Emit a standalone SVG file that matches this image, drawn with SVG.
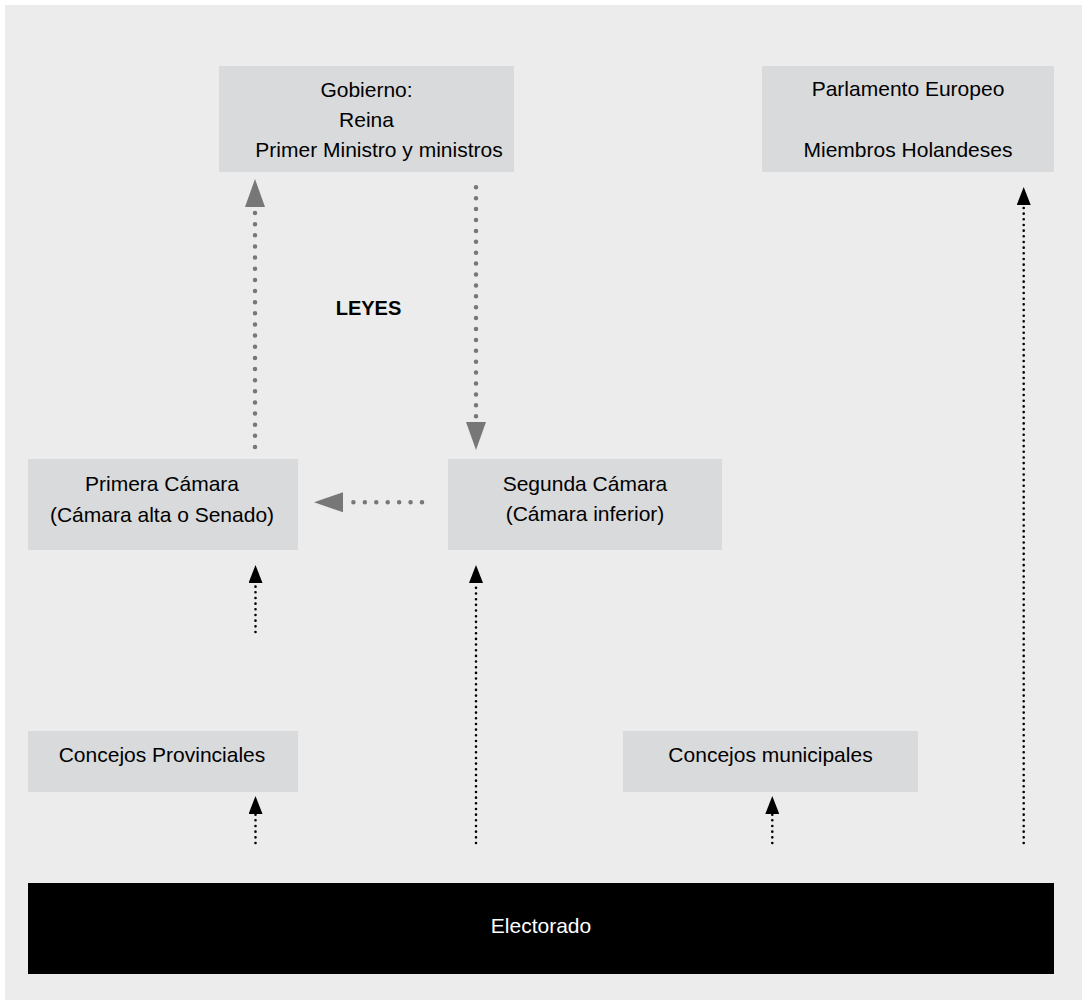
<svg xmlns="http://www.w3.org/2000/svg" width="1082" height="1001" viewBox="0 0 1082 1001">
  <defs>
    <marker id="ah-black" markerUnits="userSpaceOnUse" viewBox="0 0 18 14" refX="0" refY="7" markerWidth="18" markerHeight="14" orient="auto">
      <path d="M0,0 L18,7 L0,14 Z" fill="#000"/>
    </marker>
  </defs>
  <style>
    .box { fill: #d9dadb; }
    .lbl { font-family: "Liberation Sans", Arial, Helvetica, sans-serif; font-size: 21px; fill: #000; text-anchor: middle; }
    .bold { font-weight: bold; font-size: 20px; }
    .gray { stroke: #777777; stroke-width: 4.5; stroke-linecap: round; fill: none; }
    .ghead { fill: #777777; }
    .blk { stroke: #000; stroke-width: 2.6; stroke-linecap: round; stroke-dasharray: 0 5.67; fill: none; }
  </style>
  <rect x="0" y="0" width="1082" height="1001" fill="#ffffff"/>
  <rect x="5" y="5" width="1077" height="995" fill="#ebeceb"/>

  <g id="gobierno">
    <rect class="box" x="219" y="66" width="295" height="106"/>
    <text class="lbl" x="366.5" y="97">Gobierno:</text>
    <text class="lbl" x="366.5" y="127">Reina</text>
    <text class="lbl" x="379" y="157">Primer Ministro y ministros</text>
  </g>

  <g id="parlamento">
    <rect class="box" x="762" y="66" width="292" height="106"/>
    <text class="lbl" x="908" y="96">Parlamento Europeo</text>
    <text class="lbl" x="908" y="157">Miembros Holandeses</text>
  </g>

  <g id="primera">
    <rect class="box" x="28" y="459" width="270" height="91"/>
    <text class="lbl" x="162" y="491">Primera Cámara</text>
    <text class="lbl" x="162" y="522">(Cámara alta o Senado)</text>
  </g>

  <g id="segunda">
    <rect class="box" x="448" y="459" width="274" height="91"/>
    <text class="lbl" x="585" y="491">Segunda Cámara</text>
    <text class="lbl" x="585" y="521">(Cámara inferior)</text>
  </g>

  <g id="provinciales">
    <rect class="box" x="28" y="731" width="270" height="61"/>
    <text class="lbl" x="162" y="762">Concejos Provinciales</text>
  </g>

  <g id="municipales">
    <rect class="box" x="623" y="731" width="295" height="61"/>
    <text class="lbl" x="770.5" y="762">Concejos municipales</text>
  </g>

  <g id="electorado">
    <rect x="28" y="883" width="1026" height="91" fill="#000"/>
    <text class="lbl" x="541" y="933" style="fill:#fff">Electorado</text>
  </g>

  <g id="leyes">
    <text class="lbl bold" x="368.5" y="315">LEYES</text>
  </g>

  <g id="connectors">
    <line class="gray" x1="255" y1="447" x2="255" y2="213" stroke-dasharray="0 11.14"/>
    <path class="ghead" d="M245,207 L255,179 L265,207 Z"/>
    <line class="gray" x1="476" y1="187.3" x2="476" y2="416.3" stroke-dasharray="0 10.9"/>
    <path class="ghead" d="M466,422 L476,450 L486,422 Z"/>
    <line class="gray" x1="422" y1="502.3" x2="342" y2="502.3" stroke-dasharray="0 11.43"/>
    <path class="ghead" d="M343,492.3 L314,502.3 L343,512.3 Z"/>

    <line class="blk" x1="255.5" y1="632" x2="255.5" y2="583" marker-end="url(#ah-black)"/>
    <line class="blk" x1="476" y1="843" x2="476" y2="583" marker-end="url(#ah-black)"/>
    <line class="blk" x1="1023.7" y1="843" x2="1023.7" y2="205" marker-end="url(#ah-black)"/>
    <line class="blk" x1="255.5" y1="843" x2="255.5" y2="814" marker-end="url(#ah-black)"/>
    <line class="blk" x1="772.3" y1="843" x2="772.3" y2="814" marker-end="url(#ah-black)"/>
  </g>
</svg>
